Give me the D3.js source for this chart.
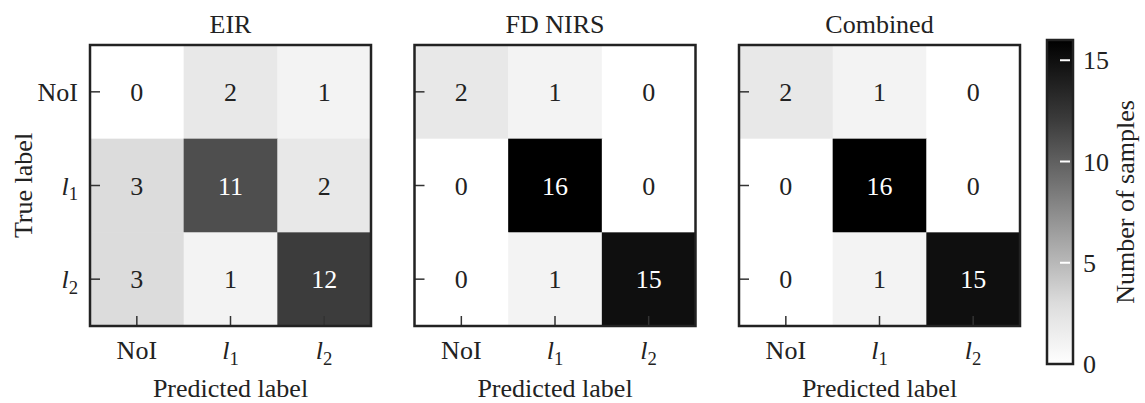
<!DOCTYPE html>
<html>
<head>
<meta charset="utf-8">
<script src="https://cdn.jsdelivr.net/npm/d3@7"></script>
<style>
  body { margin: 0; background: #fff; }
  svg { display: block; font-family: "Liberation Serif", "Times New Roman", serif; }
</style>
</head>
<body>
<svg width="1145" height="403"></svg>
<script>
// labels and data
var classes = ["NoI", "l1", "l2"];
var titles = ["EIR", "FD NIRS", "Combined"];
var eir = [[0, 2, 1], [3, 11, 2], [3, 1, 12]];
var fdnirs = [[2, 1, 0], [0, 16, 0], [0, 1, 15]];
var combined = [[2, 1, 0], [0, 16, 0], [0, 1, 15]];
var matrices = [eir, fdnirs, combined];
var cbTicks = [0, 5, 10, 15];

var fontSize = 26;
var panelSize = 281,
  panelTop = 45,
  panelLeft = 90,
  panelStep = 324.5;

var svg = d3.select("svg");

// grey colour map (0 -> white, 16 -> black)
var color = d3.scaleLinear()
  .domain([0, 3, 12, 16])
  .range(["#ffffff", "#dcdcdc", "#3c3c3c", "#000000"]);

var band = d3.scaleBand().domain(classes).range([0, panelSize]);

function addLabel(sel, name) {
  if (name === "NoI") {
    sel.text("NoI");
  } else {
    sel.append("tspan").style("font-style", "italic").text("l");
    sel.append("tspan").attr("dy", "0.3em").attr("font-size", "0.72em").text(name.slice(1));
  }
}

matrices.forEach(function(m, p) {
  var g = svg.append("g")
    .attr("transform", "translate(" + (panelLeft + p * panelStep) + "," + panelTop + ")");

  var cells = [];
  m.forEach(function(row, i) {
    row.forEach(function(v, j) {
      cells.push({ r: classes[i], c: classes[j], v: v });
    });
  });

  g.selectAll("rect.cell")
    .data(cells)
    .enter().append("rect")
    .attr("class", "cell")
    .attr("x", function(d) { return band(d.c); })
    .attr("y", function(d) { return band(d.r); })
    .attr("width", band.bandwidth() + 0.5)
    .attr("height", band.bandwidth() + 0.5)
    .attr("fill", function(d) { return color(d.v); });

  g.selectAll("text.val")
    .data(cells)
    .enter().append("text")
    .attr("class", "val")
    .attr("x", function(d) { return band(d.c) + band.bandwidth() / 2; })
    .attr("y", function(d) { return band(d.r) + band.bandwidth() / 2; })
    .attr("dy", "0.35em")
    .attr("text-anchor", "middle")
    .attr("font-size", fontSize)
    .attr("fill", function(d) { return d.v > 8 ? "#fff" : "#222"; })
    .text(function(d) { return d.v; });

  // inner ticks
  g.selectAll("line.yt")
    .data(classes)
    .enter().append("line")
    .attr("x1", 0).attr("x2", 10)
    .attr("y1", function(d) { return band(d) + band.bandwidth() / 2; })
    .attr("y2", function(d) { return band(d) + band.bandwidth() / 2; })
    .attr("stroke", "#333").attr("stroke-width", 1.5);

  g.selectAll("line.xt")
    .data(classes)
    .enter().append("line")
    .attr("y1", panelSize).attr("y2", panelSize - 10)
    .attr("x1", function(d) { return band(d) + band.bandwidth() / 2; })
    .attr("x2", function(d) { return band(d) + band.bandwidth() / 2; })
    .attr("stroke", "#333").attr("stroke-width", 1.5);

  g.append("rect")
    .attr("width", panelSize).attr("height", panelSize)
    .attr("fill", "none").attr("stroke", "#222").attr("stroke-width", 2.5);

  // title
  g.append("text")
    .attr("x", panelSize / 2).attr("y", -12)
    .attr("text-anchor", "middle")
    .attr("font-size", fontSize).attr("fill", "#222")
    .text(titles[p]);

  // x tick labels
  classes.forEach(function(c) {
    var t = g.append("text")
      .attr("x", band(c) + band.bandwidth() / 2)
      .attr("y", panelSize + 33)
      .attr("text-anchor", "middle")
      .attr("font-size", fontSize).attr("fill", "#222");
    addLabel(t, c);
  });

  g.append("text")
    .attr("x", panelSize / 2).attr("y", panelSize + 71)
    .attr("text-anchor", "middle")
    .attr("font-size", fontSize).attr("fill", "#222")
    .text("Predicted label");

  if (p === 0) {
    classes.forEach(function(c) {
      var t = g.append("text")
        .attr("x", -12)
        .attr("y", band(c) + band.bandwidth() / 2 + 9)
        .attr("text-anchor", "end")
        .attr("font-size", fontSize).attr("fill", "#222");
      addLabel(t, c);
    });
    g.append("text")
      .attr("transform", "translate(-58," + (panelSize / 2) + ") rotate(-90)")
      .attr("text-anchor", "middle")
      .attr("font-size", fontSize).attr("fill", "#222")
      .text("True label");
  }
});

// colour bar
var cbX = 1047, cbW = 26;
var cbY = d3.scaleLinear().domain([0, 16]).range([364, 40]);

var grad = svg.append("defs").append("linearGradient")
  .attr("id", "cbgrad")
  .attr("x1", 0).attr("y1", 1).attr("x2", 0).attr("y2", 0);
grad.selectAll("stop")
  .data(d3.range(0, 17))
  .enter().append("stop")
  .attr("offset", function(d) { return d / 16; })
  .attr("stop-color", function(d) { return color(d); });

svg.append("rect")
  .attr("x", cbX).attr("y", cbY(16))
  .attr("width", cbW).attr("height", cbY(0) - cbY(16))
  .attr("fill", "url(#cbgrad)")
  .attr("stroke", "#222").attr("stroke-width", 2.5);

svg.selectAll("line.cbt")
  .data(cbTicks.filter(function(d) { return d > 0; }))
  .enter().append("line")
  .attr("x1", cbX + 13).attr("x2", cbX + cbW - 3)
  .attr("y1", function(d) { return cbY(d); })
  .attr("y2", function(d) { return cbY(d); })
  .attr("stroke", "#fff").attr("stroke-width", 2);

svg.selectAll("text.cbl")
  .data(cbTicks)
  .enter().append("text")
  .attr("x", cbX + cbW + 10)
  .attr("y", function(d) { return cbY(d); })
  .attr("dy", "0.35em")
  .attr("font-size", fontSize).attr("fill", "#222")
  .text(function(d) { return d; });

svg.append("text")
  .attr("transform", "translate(1134," + (cbY(8)) + ") rotate(-90)")
  .attr("text-anchor", "middle")
  .attr("font-size", fontSize).attr("fill", "#222")
  .text("Number of samples");
</script>
</body>
</html>
